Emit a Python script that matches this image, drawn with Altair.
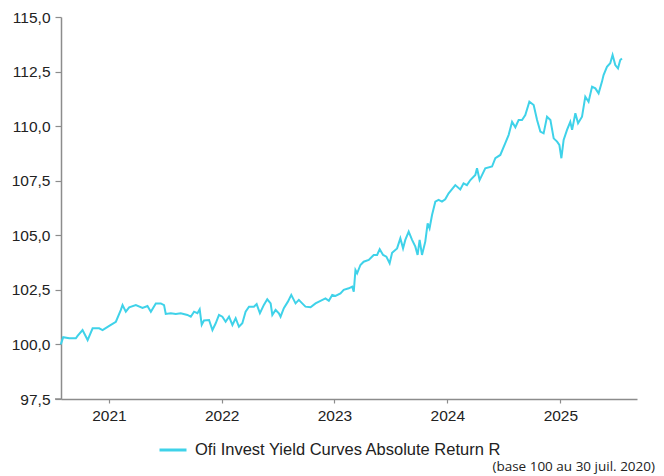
import altair as alt
import pandas as pd

SERIES = "Ofi Invest Yield Curves Absolute Return R"
FOOTNOTE = "(base 100 au 30 juil. 2020)"
Y_TICKS = [97.5, 100.0, 102.5, 105.0, 107.5, 110.0, 112.5, 115.0]
X_TICKS = ["2021-01-01", "2022-01-01", "2023-01-01", "2024-01-01", "2025-01-01"]
X_DOMAIN = ["2020-07-30", "2025-09-06"]

# time as decimal years
t_years = [
    2020.575, 2020.596, 2020.649, 2020.708, 2020.723, 2020.767, 2020.812, 2020.856,
    2020.914, 2020.944, 2021.003, 2021.062, 2021.106, 2021.121, 2021.150, 2021.180,
    2021.239, 2021.298, 2021.342, 2021.372, 2021.416, 2021.460, 2021.489, 2021.504,
    2021.549, 2021.593, 2021.637, 2021.696, 2021.726, 2021.755, 2021.785, 2021.805,
    2021.823, 2021.843, 2021.888, 2021.918, 2021.947, 2021.976, 2022.006, 2022.035,
    2022.065, 2022.095, 2022.124, 2022.153, 2022.183, 2022.212, 2022.242, 2022.286,
    2022.310, 2022.339, 2022.374, 2022.404, 2022.434, 2022.449, 2022.478, 2022.507,
    2022.522, 2022.551, 2022.587, 2022.617, 2022.655, 2022.684, 2022.714, 2022.743,
    2022.788, 2022.832, 2022.876, 2022.920, 2022.950, 2022.980, 2023.009, 2023.053,
    2023.082, 2023.127, 2023.157, 2023.171, 2023.186, 2023.201, 2023.230, 2023.259,
    2023.304, 2023.348, 2023.378, 2023.401, 2023.431, 2023.460, 2023.489, 2023.511,
    2023.555, 2023.584, 2023.608, 2023.628, 2023.658, 2023.688, 2023.717, 2023.737,
    2023.755, 2023.776, 2023.805, 2023.826, 2023.843, 2023.865, 2023.894, 2023.923,
    2023.953, 2023.982, 2024.012, 2024.071, 2024.115, 2024.144, 2024.174, 2024.204,
    2024.248, 2024.263, 2024.286, 2024.336, 2024.396, 2024.425, 2024.469, 2024.513,
    2024.543, 2024.573, 2024.602, 2024.631, 2024.661, 2024.690, 2024.726, 2024.764,
    2024.794, 2024.823, 2024.852, 2024.882, 2024.912, 2024.941, 2024.971, 2024.991,
    2025.009, 2025.029, 2025.059, 2025.088, 2025.104, 2025.133, 2025.157, 2025.192,
    2025.221, 2025.250, 2025.281, 2025.310, 2025.339, 2025.369, 2025.383, 2025.413,
    2025.442, 2025.463, 2025.487, 2025.511, 2025.531, 2025.546,
]

values = [
    100.00, 100.33, 100.28, 100.28, 100.39, 100.66, 100.20, 100.74,
    100.74, 100.66, 100.85, 101.04, 101.58, 101.80, 101.50, 101.70,
    101.80, 101.67, 101.76, 101.50, 101.88, 101.88, 101.80, 101.40,
    101.43, 101.40, 101.43, 101.35, 101.27, 101.50, 101.43, 101.61,
    100.90, 101.10, 101.12, 100.66, 100.97, 101.35, 101.27, 101.04,
    101.27, 100.89, 101.20, 100.81, 100.97, 101.50, 101.73, 101.73,
    101.85, 101.43, 101.81, 102.07, 101.88, 101.35, 101.58, 101.43,
    101.27, 101.66, 101.96, 102.27, 101.88, 102.04, 101.88, 101.73,
    101.70, 101.88, 102.00, 102.11, 102.00, 102.27, 102.22, 102.34,
    102.50, 102.57, 102.65, 102.42, 103.41, 103.26, 103.64, 103.79,
    103.87, 104.10, 104.10, 104.36, 104.10, 104.02, 103.72, 104.20,
    104.40, 104.86, 104.40, 104.79, 105.17, 104.79, 104.48, 104.10,
    104.79, 104.10, 104.71, 105.55, 105.32, 105.93, 106.54, 106.62,
    106.54, 106.65, 106.92, 107.30, 107.10, 107.38, 107.30, 107.53,
    107.76, 108.07, 107.53, 108.07, 108.15, 108.53, 108.68, 109.22,
    109.60, 110.20, 109.95, 110.28, 110.28, 110.51, 111.12, 110.97,
    110.28, 109.75, 109.67, 110.43, 110.28, 109.44, 109.29, 109.14,
    108.53, 109.37, 109.83, 110.20, 109.83, 110.59, 110.13, 110.43,
    111.35, 111.12, 111.81, 111.73, 111.50, 112.04, 112.34, 112.72,
    112.88, 113.26, 112.80, 112.65, 113.03, 113.10,
]


def dec_to_date(t):
    y = int(t)
    start = pd.Timestamp(y, 1, 1)
    end = pd.Timestamp(y + 1, 1, 1)
    return start + (end - start) * (t - y)


df = pd.DataFrame({
    "date": [dec_to_date(t) for t in t_years],
    "value": values,
    "series": SERIES,
})
note_df = pd.DataFrame({"note": [FOOTNOTE]})
stub_df = pd.DataFrame({"k": [0]})

AXIS_GREY = "#8c8c8c"
TEXT = "#222222"
FONT = "Liberation Sans"

line = (
    alt.Chart(df)
    .mark_line(strokeWidth=2, interpolate="linear")
    .encode(
        x=alt.X(
            "date:T",
            title=None,
            scale=alt.Scale(domain=X_DOMAIN),
            axis=alt.Axis(
                values=X_TICKS,
                format="%Y",
                grid=False,
                domainColor=AXIS_GREY,
                domainWidth=1.5,
                tickColor=AXIS_GREY,
                tickSize=4,
                tickWidth=1.2,
                labelPadding=5,
                labelFont=FONT,
                labelFontSize=15.5,
                labelColor=TEXT,
            ),
        ),
        y=alt.Y(
            "value:Q",
            title=None,
            scale=alt.Scale(domain=[97.5, 115], nice=False, zero=False),
            axis=alt.Axis(
                values=Y_TICKS,
                labelExpr="replace(format(datum.value, '.1f'), '.', ',')",
                grid=False,
                domainColor=AXIS_GREY,
                domainWidth=1.5,
                tickColor=AXIS_GREY,
                tickSize=6,
                tickWidth=1.2,
                labelPadding=5,
                labelFont=FONT,
                labelFontSize=15.5,
                labelColor=TEXT,
            ),
        ),
        color=alt.Color(
            "series:N",
            scale=alt.Scale(range=["#3fd2e9"]),
            legend=alt.Legend(
                title=None,
                orient="none",
                legendX=97,
                legendY=418,
                symbolType="stroke",
                symbolSize=729,
                symbolStrokeWidth=3,
                labelFont=FONT,
                labelFontSize=16.5,
                labelColor=TEXT,
                labelOffset=7,
                labelLimit=0,
                padding=0,
            ),
        ),
    )
)

# small extension of the x-axis line to the left of the y-axis
stub = (
    alt.Chart(stub_df)
    .mark_rule(color=AXIS_GREY, strokeWidth=1.5)
    .encode(x=alt.value(-6), x2=alt.value(0), y=alt.value(382))
)

note = (
    alt.Chart(note_df)
    .mark_text(align="right", baseline="middle", font="Open Sans", fontSize=13.5, color=TEXT)
    .encode(text="note:N", x=alt.value(594), y=alt.value(450))
)

chart = (
    alt.layer(line, stub, note)
    .properties(
        width=576,
        height=382,
        padding={"left": 53, "top": 9, "right": 19, "bottom": 77},
        autosize=alt.AutoSizeParams(type="none"),
    )
    .configure_view(stroke=None)
)

chart.save("out.html", embed_options={"renderer": "svg", "actions": False})
